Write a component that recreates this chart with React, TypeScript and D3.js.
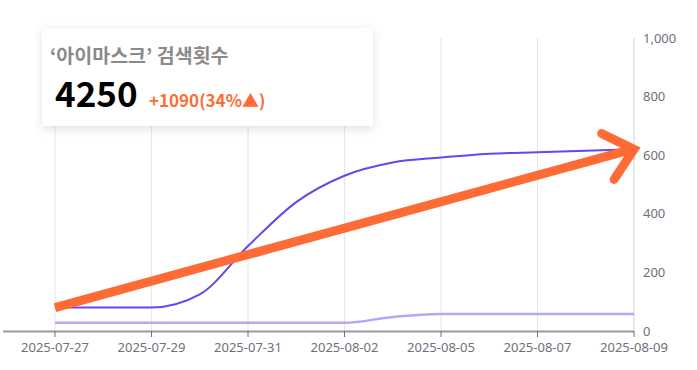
import * as d3 from 'd3';
import { useEffect, useRef } from 'react';

const categories = [
  '2025-07-27', '2025-07-28', '2025-07-29', '2025-07-30', '2025-07-31', '2025-08-01',
  '2025-08-02', '2025-08-04', '2025-08-05', '2025-08-06', '2025-08-07', '2025-08-08', '2025-08-09',
];
const mainValues = [80, 80, 80, 125, 290, 440, 530, 575, 592, 605, 610, 615, 620];
const subValues = [28, 28, 28, 28, 28, 28, 28, 48, 58, 58, 58, 58, 58];
const yTicks = [0, 200, 400, 600, 800, 1000];

const cardTitle = '‘아이마스크’ 검색횟수';
const cardValue = '4250';
const cardChange = '+1090(34%▲)';

const W = 697;
const H = 370;

export default function App() {
  const svgRef = useRef<SVGSVGElement>(null);

  useEffect(() => {
    if (!svgRef.current) return;
    const svg = d3.select(svgRef.current);
    svg.selectAll('*').remove();

    const left = 3;
    const right = 634;
    const top = 38;
    const bottom = 331;

    const x = d3.scalePoint<string>().domain(categories).range([55, right]);
    const y = d3.scaleLinear().domain([0, 1000]).range([bottom, top]);

    const labeled = categories.filter((_, i) => i % 2 === 0);

    const defs = svg.append('defs');
    const filter = defs.append('filter').attr('id', 'card-shadow')
      .attr('x', '-20%').attr('y', '-30%').attr('width', '140%').attr('height', '160%');
    filter.append('feDropShadow')
      .attr('dx', 0).attr('dy', 3).attr('stdDeviation', 5)
      .attr('flood-color', '#000').attr('flood-opacity', 0.12);

    // vertical grid
    svg.append('g').selectAll('line').data(labeled).enter().append('line')
      .attr('x1', (d) => x(d)!).attr('x2', (d) => x(d)!)
      .attr('y1', top).attr('y2', bottom)
      .attr('stroke', '#e3e6f1').attr('stroke-width', 1);

    // right axis line
    svg.append('line')
      .attr('x1', right).attr('x2', right).attr('y1', top).attr('y2', bottom)
      .attr('stroke', '#dbe2ee').attr('stroke-width', 1);

    // y labels
    svg.append('g').selectAll('text').data(yTicks).enter().append('text')
      .attr('x', 643).attr('y', (d) => y(d)).attr('dy', '0.35em')
      .attr('fill', '#6e7079').style('font-family', '"Noto Sans", sans-serif').style('font-size', '13px')
      .text((d) => d3.format(',')(d));

    // lines
    const line = (vals: number[]) =>
      d3.line<number>().x((_, i) => x(categories[i])!).y((d) => y(d)).curve(d3.curveMonotoneX)(vals);

    svg.append('path').attr('d', line(subValues)).attr('fill', 'none')
      .attr('stroke', '#b3a7f9').attr('stroke-width', 2.5);
    svg.append('path').attr('d', line(mainValues)).attr('fill', 'none')
      .attr('stroke', '#6446f2').attr('stroke-width', 2);

    // x axis
    svg.append('line')
      .attr('x1', left).attr('x2', right).attr('y1', bottom + 0.5).attr('y2', bottom + 0.5)
      .attr('stroke', '#9a9aa0').attr('stroke-width', 2);
    svg.append('g').selectAll('line').data(labeled).enter().append('line')
      .attr('x1', (d) => x(d)!).attr('x2', (d) => x(d)!)
      .attr('y1', bottom).attr('y2', bottom + 6)
      .attr('stroke', '#6e7079').attr('stroke-width', 1);
    svg.append('g').selectAll('text').data(labeled).enter().append('text')
      .attr('x', (d) => x(d)!).attr('y', 352).attr('text-anchor', 'middle')
      .attr('fill', '#6e7079').style('font-family', '"Noto Sans", sans-serif').style('font-size', '13px')
      .text((d) => d);

    // trend arrow
    const x0 = x(categories[0])!;
    const y0 = y(mainValues[0]);
    const x1 = x(categories[categories.length - 1])!;
    const y1 = y(mainValues[mainValues.length - 1]);
    const orange = '#ff6b35';
    svg.append('line')
      .attr('x1', x0).attr('y1', y0).attr('x2', x1 - 2).attr('y2', y1)
      .attr('stroke', orange).attr('stroke-width', 9);
    const ang = Math.atan2(y1 - y0, x1 - x0);
    const headLen = 36;
    const spread = 0.72;
    const head = d3.path();
    head.moveTo(x1 - headLen * Math.cos(ang - spread), y1 - headLen * Math.sin(ang - spread));
    head.lineTo(x1, y1);
    head.lineTo(x1 - headLen * Math.cos(ang + spread), y1 - headLen * Math.sin(ang + spread));
    svg.append('path').attr('d', head.toString()).attr('fill', 'none')
      .attr('stroke', orange).attr('stroke-width', 9)
      .attr('stroke-linecap', 'round').attr('stroke-linejoin', 'miter');

    // card
    const card = svg.append('g');
    card.append('rect')
      .attr('x', 42).attr('y', 28).attr('width', 331).attr('height', 98)
      .attr('fill', '#fff').attr('filter', 'url(#card-shadow)');
    card.append('text').attr('x', 50).attr('y', 63)
      .attr('fill', '#8a8a8a').style('font-family', '"Noto Sans CJK KR", sans-serif')
      .style('font-size', '19.5px').style('font-weight', 700).text(cardTitle);
    card.append('text').attr('x', 55).attr('y', 107)
      .attr('fill', '#000').style('font-family', '"Noto Sans CJK KR", sans-serif')
      .style('font-size', '35px').style('font-weight', 700).text(cardValue);
    card.append('text').attr('x', 149).attr('y', 107)
      .attr('fill', orange).style('font-family', '"Noto Sans CJK KR", sans-serif')
      .style('font-size', '17px').style('font-weight', 700).text(cardChange);
  }, []);

  return (
    <svg ref={svgRef} width={W} height={H}
      style={{ position: 'absolute', left: 0, top: 0, background: '#fff' }} />
  );
}
